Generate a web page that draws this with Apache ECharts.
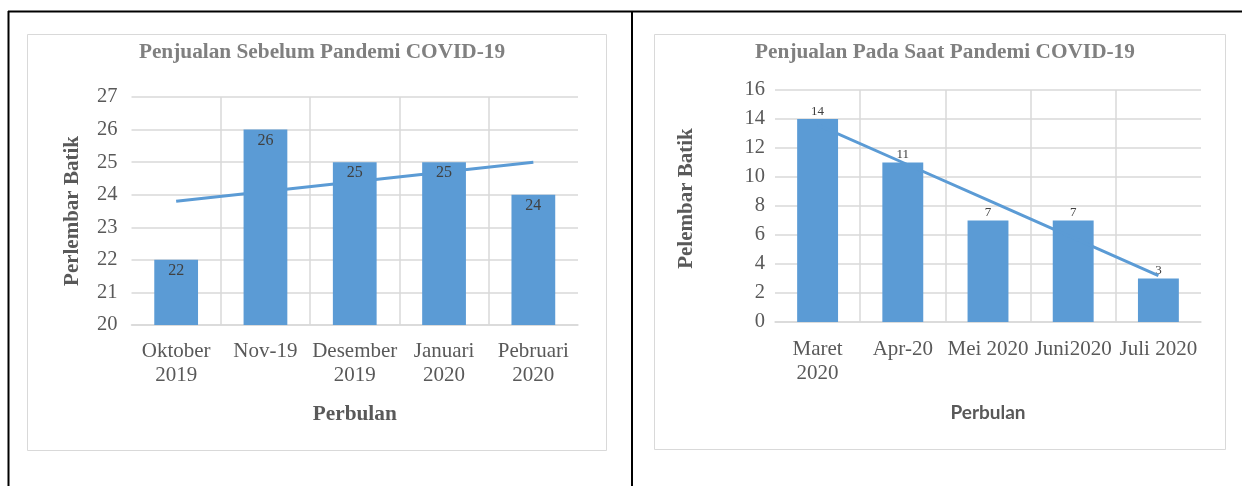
<!DOCTYPE html>
<html>
<head>
<meta charset="utf-8">
<script src="https://cdn.jsdelivr.net/npm/echarts@6/dist/echarts.min.js"></script>
<style>
  html, body { margin: 0; padding: 0; background: #ffffff; }
  #chart { width: 1242px; height: 486px; }
</style>
</head>
<body>
<div id="chart"></div>
<script>
// Sales before the pandemic (Oct 2019 - Feb 2020)
const catsBefore = ['Oktober\n2019', 'Nov-19', 'Desember\n2019', 'Januari\n2020', 'Pebruari\n2020'];
const salesBefore = [22, 26, 25, 25, 24];
const trendBefore = [23.8, 24.1, 24.4, 24.7, 25.0];
const yTicksBefore = { min: 20, max: 27, step: 1 };

// Sales during the pandemic (Mar - Jul 2020)
const catsDuring = ['Maret\n2020', 'Apr-20', 'Mei 2020', 'Juni2020', 'Juli 2020'];
const salesDuring = [14, 11, 7, 7, 3];
const trendDuring = [13.6, 11.0, 8.4, 5.8, 3.2];
const yTicksDuring = { min: 0, max: 16, step: 2 };

const titles = ['Penjualan Sebelum Pandemi COVID-19', 'Penjualan Pada Saat Pandemi COVID-19'];
const yNames = ['Perlembar Batik', 'Pelembar Batik'];
const xName = 'Perbulan';

const SERIF = '"Liberation Serif", "Times New Roman", serif';
const BLUE = '#5b9bd5';
const GRID = '#d9d9d9';
const TEXT = '#595959';

function catAxis(idx, cats, nameStyle, nameGap, margin) {
  return {
    type: 'category', gridIndex: idx, data: cats,
    axisTick: { show: false },
    axisLine: { lineStyle: { color: GRID, width: 1.5 } },
    axisLabel: { color: TEXT, fontFamily: SERIF, fontSize: 21, lineHeight: 24, margin: margin, interval: 0 },
    splitLine: { show: true, showMinLine: false, showMaxLine: false, lineStyle: { color: GRID, width: 1.5 } },
    name: xName, nameLocation: 'middle', nameGap: nameGap, nameTextStyle: nameStyle
  };
}

function valAxis(idx, ticks, name, nameGap, margin, namePad) {
  return {
    type: 'value', gridIndex: idx, min: ticks.min, max: ticks.max, interval: ticks.step,
    axisLine: { show: false }, axisTick: { show: false },
    axisLabel: { color: TEXT, fontFamily: SERIF, fontSize: 20.5, margin: margin },
    splitLine: { lineStyle: { color: GRID, width: 1.5 } },
    name: name, nameLocation: 'middle', nameRotate: 90, nameGap: nameGap,
    nameTextStyle: { color: TEXT, fontFamily: SERIF, fontWeight: 'bold', fontSize: 21, padding: namePad }
  };
}

const chart = echarts.init(document.getElementById('chart'), null, { renderer: 'canvas' });

chart.setOption({
  animation: false,
  backgroundColor: '#ffffff',
  graphic: [
    // outer table frame
    { type: 'line', shape: { x1: 8, y1: 11.5, x2: 1242, y2: 11.5 }, style: { stroke: '#000', lineWidth: 2 } },
    { type: 'line', shape: { x1: 8.5, y1: 11, x2: 8.5, y2: 486 }, style: { stroke: '#000', lineWidth: 2 } },
    { type: 'line', shape: { x1: 632, y1: 11, x2: 632, y2: 486 }, style: { stroke: '#000', lineWidth: 2 } },
    // chart area borders
    { type: 'rect', shape: { x: 27.5, y: 34.5, width: 579, height: 416 }, style: { fill: 'none', stroke: GRID, lineWidth: 1 }, z: -1 },
    { type: 'rect', shape: { x: 654.5, y: 34.5, width: 571, height: 415 }, style: { fill: 'none', stroke: GRID, lineWidth: 1 }, z: -1 }
  ],
  title: [
    { text: titles[0], left: 317, top: 37, textAlign: 'center',
      textStyle: { color: '#808080', fontFamily: SERIF, fontWeight: 'bold', fontSize: 21.3 } },
    { text: titles[1], left: 940, top: 37, textAlign: 'center',
      textStyle: { color: '#808080', fontFamily: SERIF, fontWeight: 'bold', fontSize: 21.3 } }
  ],
  grid: [
    { left: 131.5, top: 97, width: 446.5, height: 228 },
    { left: 775, top: 90, width: 426, height: 232 }
  ],
  xAxis: [
    catAxis(0, catsBefore, { color: TEXT, fontFamily: SERIF, fontWeight: 'bold', fontSize: 21.3 }, 79, 14),
    catAxis(1, catsDuring, { color: TEXT, fontFamily: 'Lato, "Open Sans", sans-serif', fontWeight: 'bold', fontSize: 19 }, 81, 15)
  ],
  yAxis: [
    valAxis(0, yTicksBefore, yNames[0], 48, 14, [0, 0, 0, 0]),
    valAxis(1, yTicksDuring, yNames[1], 78, 10, [0, 0, 0, 15])
  ],
  series: [
    { type: 'bar', xAxisIndex: 0, yAxisIndex: 0, data: salesBefore, barWidth: '49%',
      itemStyle: { color: BLUE },
      label: { show: true, position: 'insideTop', distance: 3, color: '#404040', fontFamily: SERIF, fontSize: 16 } },
    { type: 'line', xAxisIndex: 0, yAxisIndex: 0, data: trendBefore, showSymbol: false, symbol: 'none',
      lineStyle: { color: BLUE, width: 3 }, z: 1 },
    { type: 'bar', xAxisIndex: 1, yAxisIndex: 1, data: salesDuring, barWidth: '48%',
      itemStyle: { color: BLUE },
      label: { show: true, position: 'top', distance: 1, color: '#404040', fontFamily: SERIF, fontSize: 13 } },
    { type: 'line', xAxisIndex: 1, yAxisIndex: 1, data: trendDuring, showSymbol: false, symbol: 'none',
      lineStyle: { color: BLUE, width: 3 }, z: 3 }
  ]
});
</script>
</body>
</html>
